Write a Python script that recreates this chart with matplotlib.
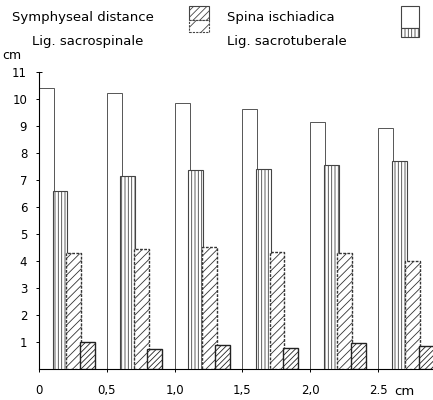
import matplotlib
matplotlib.use('Agg')
import matplotlib.pyplot as plt
from matplotlib.patches import Rectangle

# symphyseal distance groups (cm) and measured lengths (cm)
groups = [0.0, 0.5, 1.0, 1.5, 2.0, 2.5]
spina = [10.4, 10.2, 9.85, 9.6, 9.15, 8.9]
sacrotuberale = [6.6, 7.15, 7.35, 7.4, 7.55, 7.7]
sacrospinale = [4.3, 4.45, 4.5, 4.35, 4.3, 4.0]
symphyseal = [1.0, 0.75, 0.9, 0.8, 0.95, 0.85]

xticks = [0, 0.5, 1.0, 1.5, 2.0, 2.5]
xticklabels = ['0', '0,5', '1,0', '1,5', '2,0', '2.5']
yticks = list(range(1, 12))

plt.rcParams['font.family'] = ['DejaVu Sans']
plt.rcParams['hatch.linewidth'] = 0.6

fig = plt.figure(figsize=(4.33, 4.0), dpi=100)
ax = fig.add_axes([0.09, 0.077, 0.91, 0.744])

w = 0.11
step = 0.1
styles = [
    dict(facecolor='white', edgecolor='#555555', linewidth=0.7, hatch=None, linestyle='-'),
    dict(facecolor='white', edgecolor='#444444', linewidth=0.8, hatch='|||||', linestyle='-'),
    dict(facecolor='white', edgecolor='#333333', linewidth=1.0, hatch='////', linestyle=(0, (2, 1))),
    dict(facecolor='white', edgecolor='#222222', linewidth=1.0, hatch='//////', linestyle='-'),
]
series = [spina, sacrotuberale, sacrospinale, symphyseal]
for i, (vals, st) in enumerate(zip(series, styles)):
    xs = [g + i * step for g in groups]
    ax.bar(xs, vals, width=w, align='edge', zorder=2 + i, **st)

ax.set_xlim(0, 2.905)
ax.set_ylim(0, 11)
for s in ['top', 'right']:
    ax.spines[s].set_visible(False)
ax.spines['left'].set_linewidth(0.8)
ax.spines['bottom'].set_linewidth(0.8)

ax.set_yticks(yticks)
ax.set_yticklabels([str(v) for v in yticks], fontsize=8.5)
ax.set_xticks(xticks)
ax.set_xticklabels(xticklabels, fontsize=8.5)
ax.tick_params(axis='both', direction='inout', length=5, width=0.7, pad=6)
ax.tick_params(axis='x', pad=8)

fig.text(0.005, 0.845, 'cm', fontsize=9, ha='left', va='bottom')
fig.text(0.91, 0.005, 'cm', fontsize=9.5, ha='left', va='bottom')

# legend (drawn by hand)
fs = 9.5
fig.text(0.028, 0.955, 'Symphyseal distance', fontsize=fs, va='center')
fig.text(0.074, 0.897, 'Lig. sacrospinale', fontsize=fs, va='center')
fig.text(0.524, 0.955, 'Spina ischiadica', fontsize=fs, va='center')
fig.text(0.524, 0.897, 'Lig. sacrotuberale', fontsize=fs, va='center')

bx, bw = 0.437, 0.046
fig.patches.append(Rectangle((bx, 0.95), bw, 0.035, transform=fig.transFigure,
                             facecolor='white', edgecolor='#444444', lw=0.8, hatch='/////'))
fig.patches.append(Rectangle((bx, 0.92), bw, 0.03, transform=fig.transFigure,
                             facecolor='white', edgecolor='#444444', lw=0.8, hatch='//', linestyle=(0, (2, 1))))
rx, rw = 0.927, 0.04
fig.patches.append(Rectangle((rx, 0.93), rw, 0.055, transform=fig.transFigure,
                             facecolor='white', edgecolor='#444444', lw=0.8))
fig.patches.append(Rectangle((rx, 0.907), rw, 0.023, transform=fig.transFigure,
                             facecolor='white', edgecolor='#444444', lw=0.8, hatch='|||||'))

fig.savefig('out.png', dpi=100)
